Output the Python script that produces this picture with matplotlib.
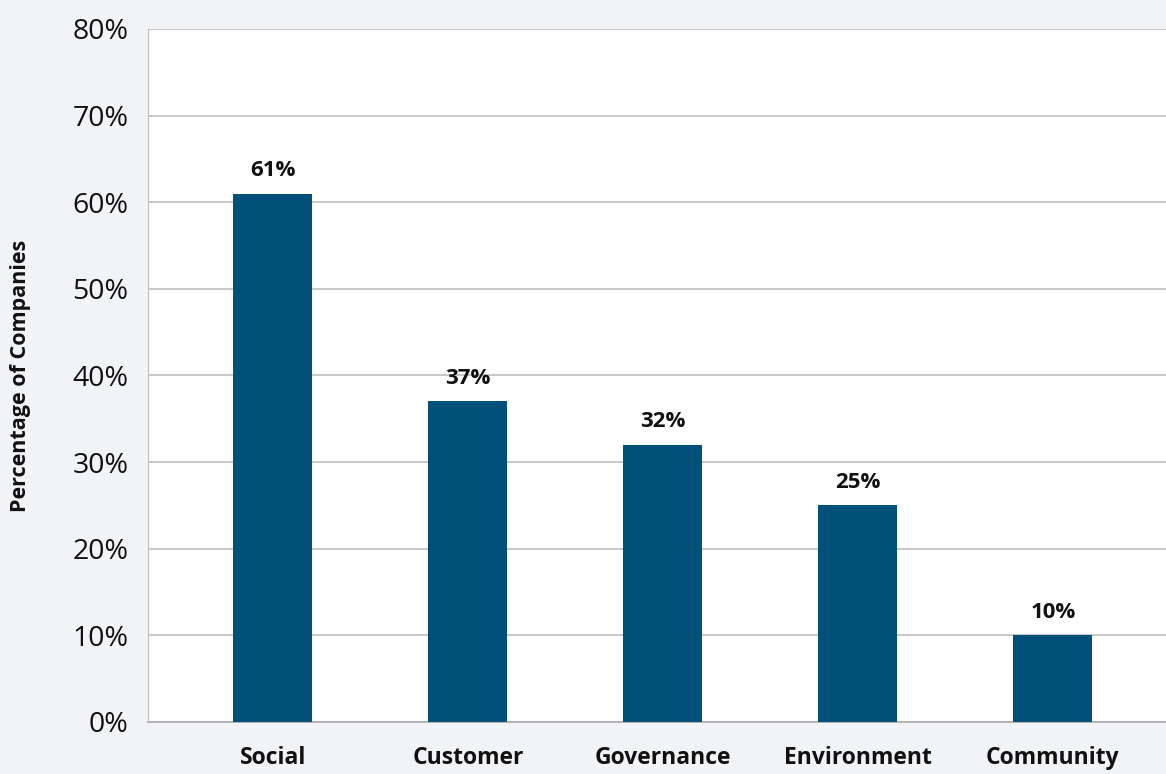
import matplotlib
matplotlib.use("Agg")
import matplotlib.pyplot as plt
from matplotlib.ticker import FuncFormatter

categories = ["Social", "Customer", "Governance", "Environment", "Community"]
values = [61, 37, 32, 25, 10]
yticks = [0, 10, 20, 30, 40, 50, 60, 70, 80]

plt.rcParams['font.family'] = ['Open Sans', 'DejaVu Sans']

bg = "#f2f3f7"
bar_color = "#00507a"

fig = plt.figure(figsize=(11.66, 7.74), dpi=100, facecolor=bg)
ax = fig.add_axes([148/1166, 52/774, 1 - 148/1166, (722-29)/774])
ax.set_facecolor("white")

x = list(range(len(categories)))
bars = ax.bar(x, values, width=0.405, color=bar_color, zorder=3)

for xi, v in zip(x, values):
    ax.annotate(f"{v}%", (xi, v), xytext=(0, 9), textcoords="offset points",
                ha="center", va="bottom", fontsize=16, fontweight="bold", color="#111111")

ax.set_ylim(0, 80)
ax.set_xlim(-0.64, 4.58)
ax.set_yticks(yticks)
ax.yaxis.set_major_formatter(FuncFormatter(lambda v, p: f"{int(v)}%"))
ax.set_xticks(x)
ax.set_xticklabels(categories, fontsize=16.5, fontweight="bold", color="#111111")
ax.tick_params(axis="y", labelsize=20.5, length=0, pad=14, labelcolor="#111111")
ax.tick_params(axis="x", length=0, pad=17)
ax.grid(axis="y", color="#bdbdbd", linewidth=1.2, zorder=0)
ax.set_axisbelow(True)
for s in ["top", "right"]:
    ax.spines[s].set_visible(False)
ax.spines["left"].set_color("#bdbdbd")
ax.spines["bottom"].set_color("#b5b5b5")
ax.spines["bottom"].set_linewidth(1.5)

ax.set_ylabel("Percentage of Companies", fontsize=15.5, fontweight="bold", color="#111111")
ax.yaxis.set_label_coords(-0.115, 0.5)

fig.savefig("out.png", dpi=100, facecolor=bg)
